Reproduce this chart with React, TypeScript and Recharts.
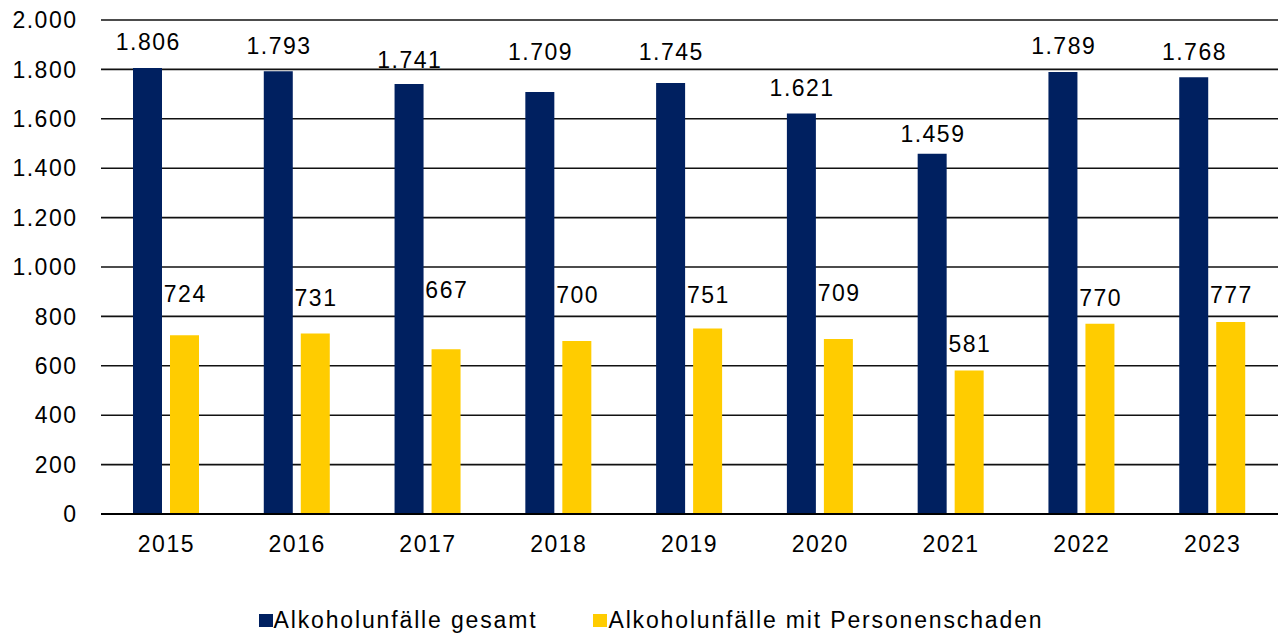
import React from "react";
import { BarChart, Bar, XAxis, YAxis, CartesianGrid, Legend, LabelList } from "recharts";

const years = ["2015", "2016", "2017", "2018", "2019", "2020", "2021", "2022", "2023"];
const gesamt = [1806, 1793, 1741, 1709, 1745, 1621, 1459, 1789, 1768];
const personenschaden = [724, 731, 667, 700, 751, 709, 581, 770, 777];
const yTicks = [0, 200, 400, 600, 800, 1000, 1200, 1400, 1600, 1800, 2000];

// label distance above each bar, as placed in the original
const gesamtLabelGap = [18, 17, 16, 32, 23, 18, 12, 18, 17];
const personenLabelGap = [33, 27, 51, 38, 26, 38, 18, 18, 19];

const NAVY = "#002060";
const YELLOW = "#FFCC00";
const FONT = "'Liberation Sans', Arial, sans-serif";

const data = years.map((y, i) => ({
  year: y,
  gesamt: gesamt[i],
  personenschaden: personenschaden[i],
}));

const fmt = (v: number) =>
  v >= 1000 ? `${Math.floor(v / 1000)}.${String(v % 1000).padStart(3, "0")}` : String(v);

const makeLabel = (gaps: number[]) => (props: any) => {
  const { x, y, width, value, index } = props;
  return (
    <text
      x={Number(x) + Number(width) / 2 + 0.75}
      y={Number(y) - gaps[index]}
      textAnchor="middle"
      fontFamily={FONT}
      fontSize={23}
      letterSpacing={1.5}
      fill="#000"
    >
      {fmt(Number(value))}
    </text>
  );
};

const legendItems = [
  { name: "Alkoholunfälle gesamt", color: NAVY },
  { name: "Alkoholunfälle mit Personenschaden", color: YELLOW },
];

const renderLegend = () => (
  <div
    style={{
      display: "flex",
      justifyContent: "center",
      alignItems: "flex-end",
      height: 63,
      paddingLeft: 24,
      paddingBottom: 4,
      boxSizing: "border-box",
      fontFamily: FONT,
      fontSize: 23,
      letterSpacing: 1.85,
      color: "#000",
      gap: 56,
    }}
  >
    {legendItems.map((it) => (
      <div key={it.name} style={{ display: "flex", alignItems: "center" }}>
        <span style={{ display: "inline-block", width: 14, height: 13, background: it.color, marginRight: 1 }} />
        <span style={{ lineHeight: "26px" }}>{it.name}</span>
      </div>
    ))}
  </div>
);

export default function App() {
  const tick = { fontFamily: FONT, fontSize: 23, fill: "#000", letterSpacing: 1.5 };
  return (
    <div style={{ position: "absolute", left: 0, top: 0, background: "#fff" }}>
      <BarChart
        width={1284}
        height={637}
        data={data}
        margin={{ top: 20, right: 6, bottom: 0, left: 0 }}
        barSize={29}
        barGap={8}
      >
        <CartesianGrid vertical={false} stroke="#111" strokeWidth={1.6} />
        <XAxis
          dataKey="year"
          height={60}
          tickLine={false}
          tickSize={0}
          tickMargin={22}
          axisLine={{ stroke: "#000", strokeWidth: 1.8 }}
          tick={tick}
        />
        <YAxis
          width={101}
          domain={[0, 2000]}
          ticks={yTicks}
          tickFormatter={fmt}
          axisLine={false}
          tickLine={false}
          tickSize={0}
          tickMargin={23.5}
          tick={tick}
          interval={0}
        />
        <Legend verticalAlign="bottom" height={63} content={renderLegend} />
        <Bar dataKey="gesamt" name="Alkoholunfälle gesamt" fill={NAVY} isAnimationActive={false}>
          <LabelList dataKey="gesamt" content={makeLabel(gesamtLabelGap)} />
        </Bar>
        <Bar dataKey="personenschaden" name="Alkoholunfälle mit Personenschaden" fill={YELLOW} isAnimationActive={false}>
          <LabelList dataKey="personenschaden" content={makeLabel(personenLabelGap)} />
        </Bar>
      </BarChart>
    </div>
  );
}
